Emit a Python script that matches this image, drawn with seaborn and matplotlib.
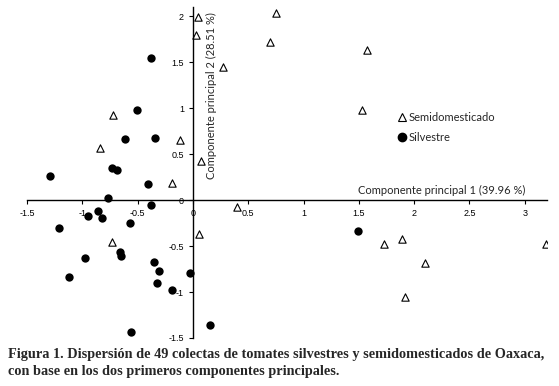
import numpy as np
import pandas as pd
import seaborn as sns
import matplotlib.pyplot as plt
from matplotlib.lines import Line2D

# PCA scores
silv_x = [-0.383, -0.504, -0.618, -0.344, -0.730, -0.688, -1.294, -0.404, -0.766,
          -0.377, -0.953, -0.857, -0.823, -0.573, -1.213, -0.975, -0.663, -0.652,
          -1.122, -0.356, -0.308, -0.329, -0.193, -0.030, 0.154, -0.561, 1.490]
silv_y = [1.54, 0.98, 0.663, 0.67, 0.351, 0.326, 0.261, 0.177, 0.025,
          -0.058, -0.178, -0.123, -0.199, -0.246, -0.304, -0.627, -0.565, -0.605,
          -0.841, -0.67, -0.772, -0.899, -0.982, -0.793, -1.362, -1.435, -0.333]
semi_x = [0.042, 0.027, 0.274, -0.721, -0.842, -0.120, 0.072, -0.187,
          0.748, 0.694, 1.578, 1.533, 0.395, 0.051, -0.733,
          1.729, 1.891, 2.096, 1.916, 3.190]
semi_y = [1.99, 1.80, 1.446, 0.927, 0.569, 0.655, 0.42, 0.185,
          2.04, 1.72, 1.634, 0.985, -0.072, -0.373, -0.453,
          -0.475, -0.42, -0.681, -1.054, -0.482]

x_ticks = [-1.5, -1, -0.5, 0, 0.5, 1, 1.5, 2, 2.5, 3]
y_ticks = [-1.5, -1, -0.5, 0, 0.5, 1, 1.5, 2]

df = pd.concat([
    pd.DataFrame({'cp1': semi_x, 'cp2': semi_y, 'tipo': 'Semidomesticado'}),
    pd.DataFrame({'cp1': silv_x, 'cp2': silv_y, 'tipo': 'Silvestre'}),
])

sns.set_style('white')
plt.rcParams['font.family'] = ['Lato', 'DejaVu Sans']

fig = plt.figure(figsize=(5.59, 3.86), dpi=100)
ax = fig.add_axes([0.0483, 0.1244, 0.930, 0.8575])

sns.scatterplot(data=df[df['tipo'] == 'Semidomesticado'], x='cp1', y='cp2', ax=ax,
                marker='^', s=28, facecolor='white', edgecolor='black', linewidth=0.8)
sns.scatterplot(data=df[df['tipo'] == 'Silvestre'], x='cp1', y='cp2', ax=ax,
                marker='o', s=36, color='black', edgecolor='black', linewidth=0)

ax.set_xlim(-1.5, 3.2)
ax.set_ylim(-1.5, 2.1)
ax.set_xticks(x_ticks)
ax.set_yticks(y_ticks)
ax.set_xticklabels([f'{t:g}' for t in x_ticks])
ax.set_yticklabels([f'{t:g}' for t in y_ticks])
ax.set_xlabel('')
ax.set_ylabel('')

# axes crossing at the origin
ax.spines['left'].set_position(('data', 0))
ax.spines['bottom'].set_position(('data', 0))
ax.spines['right'].set_visible(False)
ax.spines['top'].set_visible(False)
for s in ['left', 'bottom']:
    ax.spines[s].set_color('black')
    ax.spines[s].set_linewidth(1.0)
ax.tick_params(axis='both', direction='out', length=3, width=0.8, colors='black',
               labelsize=6.5, bottom=True, left=True)
for lab in ax.get_xticklabels() + ax.get_yticklabels():
    lab.set_family(['Liberation Sans', 'DejaVu Sans'])

ax.text(3.01, 0.04, 'Componente principal 1 (39.96 %)', ha='right', va='bottom', fontsize=8)
ax.text(0.12, 2.04, 'Componente principal 2 (28.51 %)', ha='left', va='top',
        rotation=90, fontsize=8)

handles = [
    Line2D([], [], marker='^', linestyle='', markerfacecolor='white',
           markeredgecolor='black', markersize=5.3, markeredgewidth=0.8),
    Line2D([], [], marker='o', linestyle='', color='black', markersize=6),
]
ax.legend(handles, ['Semidomesticado', 'Silvestre'], loc='upper left',
          bbox_to_anchor=(0.706, 0.695), frameon=False, fontsize=8,
          handlelength=0.6, handletextpad=0.3, labelspacing=0.75, borderaxespad=0)

fig.text(0.014, 0.098,
         'Figura 1. Dispersión de 49 colectas de tomates silvestres y semidomesticados de Oaxaca,\n'
         'con base en los dos primeros componentes principales.',
         ha='left', va='top', fontsize=10.3, fontweight='bold',
         family=['Liberation Serif', 'DejaVu Serif'], linespacing=1.4)

fig.savefig('out.png', dpi=100)
